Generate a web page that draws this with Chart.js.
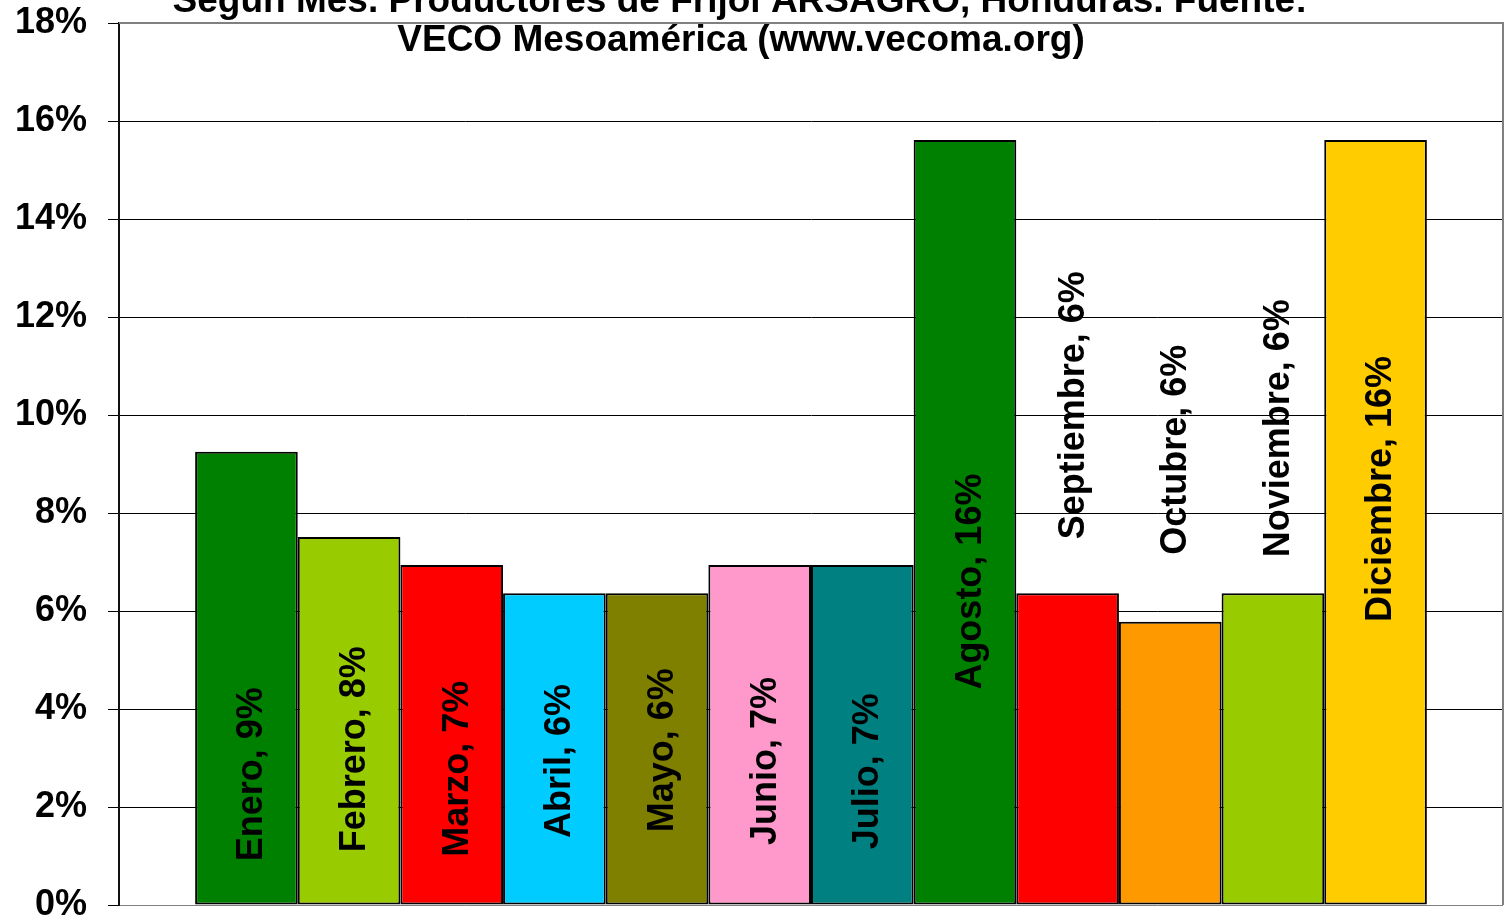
<!DOCTYPE html>
<html>
<head>
<meta charset="utf-8">
<title>Productores de Frijol ARSAGRO - según mes</title>
<script src="https://cdn.jsdelivr.net/npm/chart.js@4.4.1/dist/chart.umd.min.js"></script>
<style>
    html, body { margin: 0; padding: 0; background: #ffffff; }
    #wrap { width: 1505px; height: 921px; position: relative; }
</style>
</head>
<body>
<div id="wrap"><canvas id="mesChart" width="1505" height="921"></canvas></div>
<script>
// data (share of producers per month, %)
const months = ['Enero', 'Febrero', 'Marzo', 'Abril', 'Mayo', 'Junio',
    'Julio', 'Agosto', 'Septiembre', 'Octubre', 'Noviembre', 'Diciembre'];
const values = [9.25, 7.51, 6.94, 6.36, 6.36, 6.94, 6.94, 15.61, 6.36, 5.78, 6.36, 15.61];
const yTicks = [0, 2, 4, 6, 8, 10, 12, 14, 16, 18];
const titleLines = [
    'Según Mes. Productores de Frijol ARSAGRO, Honduras. Fuente:',
    'VECO Mesoamérica (www.vecoma.org)'
];

// styling
const barColors = ['#008000', '#99CC00', '#FF0000', '#00CCFF', '#808000', '#FF99CC',
    '#008080', '#008000', '#FF0000', '#FF9900', '#99CC00', '#FFCC00'];
// where each rotated label sits (centre, in axis units) - placed by hand in the original
const labelPos = [2.67, 3.18, 2.78, 2.94, 3.16, 2.94, 2.73, 6.6, 10.2, 9.29, 9.73, 8.49];

const FONT = "'Liberation Sans', Arial, sans-serif";
Chart.defaults.font.family = FONT;
Chart.defaults.color = '#000';

// title is partly cut off at the top, so draw it by hand
const titlePlugin = {
    id: 'cutTitle',
    afterDraw(chart) {
        const ctx = chart.ctx;
        ctx.save();
        ctx.font = 'bold 37px ' + FONT;
        ctx.fillStyle = '#000';
        ctx.textAlign = 'center';
        ctx.textBaseline = 'alphabetic';
        ctx.fillText(titleLines[0], 740, 12);
        ctx.fillText(titleLines[1], 741, 51);
        ctx.restore();
    }
};

// gray frame round the plot area (top and right)
const framePlugin = {
    id: 'plotFrame',
    beforeDatasetsDraw(chart) {
        const a = chart.chartArea;
        const ctx = chart.ctx;
        ctx.save();
        ctx.strokeStyle = '#808080';
        ctx.lineWidth = 2;
        ctx.beginPath();
        ctx.moveTo(a.left, a.top);
        ctx.lineTo(a.right, a.top);
        ctx.lineTo(a.right, a.bottom);
        ctx.stroke();
        ctx.restore();
    }
};

// rotated "Mes, n%" labels
const barLabelPlugin = {
    id: 'barLabels',
    afterDatasetsDraw(chart) {
        const ctx = chart.ctx;
        const yScale = chart.scales.y;
        ctx.save();
        ctx.font = 'bold 36px ' + FONT;
        ctx.fillStyle = '#000';
        ctx.textAlign = 'center';
        ctx.textBaseline = 'middle';
        chart.data.datasets.forEach((ds, i) => {
            const bar = chart.getDatasetMeta(i).data[0];
            if (!bar) return;
            const txt = months[i] + ', ' + Math.round(values[i]) + '%';
            const y = yScale.getPixelForValue(labelPos[i]);
            ctx.save();
            ctx.translate(bar.x + 6, y);
            ctx.rotate(-Math.PI / 2);
            ctx.fillText(txt, 0, 0);
            ctx.restore();
        });
        ctx.restore();
    }
};

const datasets = months.map((m, i) => ({
    label: m,
    data: [values[i]],
    backgroundColor: barColors[i],
    borderColor: '#000',
    borderWidth: 2,
    borderSkipped: false,
    barPercentage: 1.0,
    categoryPercentage: 0.89
}));

const ctx = document.getElementById('mesChart');
new Chart(ctx, {
    type: 'bar',
    data: { labels: [''], datasets: datasets },
    options: {
        responsive: false,
        animation: false,
        layout: { padding: { top: 23, right: 2, bottom: 16, left: 0 } },
        plugins: {
            legend: { display: false },
            tooltip: { enabled: false },
            title: { display: false }
        },
        scales: {
            x: { display: false },
            y: {
                min: 0,
                max: 18,
                afterFit: (scale) => {
                    scale.width = 119;
                    // tick labels may hang over the plot edges, as in the original
                    scale.paddingTop = 0;
                    scale.paddingBottom = 0;
                },
                afterBuildTicks: (scale) => { scale.ticks = yTicks.map(v => ({ value: v })); },
                grid: {
                    color: (c) => (c.tick && (c.tick.value === 0 || c.tick.value === 18)) ? '#808080' : '#000',
                    lineWidth: 1,
                    tickLength: 11,
                    tickColor: '#000'
                },
                border: { color: '#111', width: 2 },
                ticks: {
                    autoSkip: false,
                    padding: 21,
                    color: '#000',
                    font: { size: 36, weight: 'bold' },
                    callback: (v) => v + '%'
                }
            }
        }
    },
    plugins: [framePlugin, barLabelPlugin, titlePlugin]
});
</script>
</body>
</html>
